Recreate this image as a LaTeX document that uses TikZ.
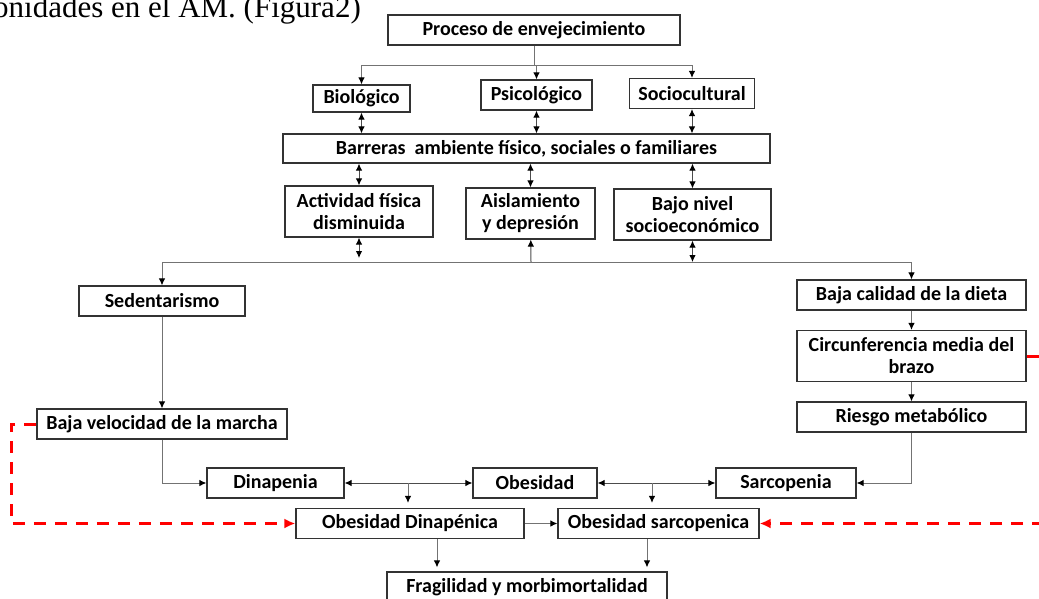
\documentclass[tikz,border=0pt]{standalone}
\usepackage{fontspec}
\setmainfont{Carlito}
\newfontfamily\docserif{Liberation Serif}
\usetikzlibrary{shapes, arrows.meta}
\tikzstyle{block} = [rectangle, draw=black!80, line width=1.2pt, minimum height=30pt, inner sep=0pt, align=center, font=\bfseries\fontsize{20}{22}\selectfont]
\tikzstyle{arrow} = [draw=black!55, line width=1pt, -{Latex[length=7pt, width=6.5pt, color=black]}]
\tikzstyle{dblarrow} = [draw=black!70, line width=1pt, {Latex[length=7pt, width=6.5pt, color=black]}-{Latex[length=7pt, width=6.5pt, color=black]}]
\tikzstyle{redline} = [draw=red, line width=3pt, dash pattern=on 12pt off 9pt, -{Latex[length=11pt, width=10pt]}]

\begin{document}
\begin{tikzpicture}[x=1pt, y=-1pt, node distance=61pt]
        \useasboundingbox (0,0) rectangle (1039,598);
        % page text above the figure
        \node [anchor=base west, inner sep=0pt, font=\docserif\fontsize{31}{34}\selectfont] (caption) at (-7,17) {onidades en el AM. (Figura2)};

        % blocks
        \node [block, minimum width=292pt] (proceso) at (534,30) {Proceso de envejecimiento};
        \node [block, minimum width=97pt, minimum height=27pt] (bio) at (361.5,98.5) {Biológico};
        \node [block, minimum width=111pt] (psico) at (536.5,95) {Psicológico};
        \node [block, minimum width=125pt] (socio) at (692,93.5) {Sociocultural};
        \node [block, minimum width=487pt, minimum height=29pt] (barreras) at (526.5,148.5) {Barreras~ ambiente físico, sociales o familiares};
        \node [block, minimum width=148pt, minimum height=51pt] (actividad) at (359,211.5) {Actividad física\\disminuida};
        \node [block, minimum width=129pt, minimum height=51pt] (aislamiento) at (530.5,213.5) {Aislamiento\\y depresión};
        \node [block, minimum width=157pt, minimum height=51pt] (socioeco) at (692.5,214.5) {Bajo nivel\\socioeconómico};
        \node [block, minimum width=166pt] (sedentario) at (162,301) {Sedentarismo};
        \node [block, below of=sedentario, node distance=123pt, minimum width=250pt] (marcha) {Baja velocidad de la marcha};
        \node [block, minimum width=229pt] (dieta) at (911.5,295) {Baja calidad de la dieta};
        \node [block, below of=dieta, minimum width=229pt, minimum height=51pt] (brazo) {Circunferencia media del\\brazo};
        \node [block, below of=brazo, minimum width=229pt] (riesgo) {Riesgo metabólico};
        \node [block, minimum width=137pt] (dinapenia) at (275.5,483) {Dinapenia};
        \node [block, minimum width=124pt] (obesidad) at (535,483) {Obesidad};
        \node [block, minimum width=140pt] (sarcopenia) at (786,483) {Sarcopenia};
        \node [block, minimum width=228pt] (obdin) at (410,523.5) {Obesidad Dinapénica};
        \node [block, minimum width=201pt] (obsar) at (658.5,523.5) {Obesidad sarcopenica};
        \node [block, minimum width=280pt] (fragil) at (527,587) {Fragilidad y morbimortalidad};

        % branch points
        \coordinate (split) at (534,65);
        \coordinate (lowsplit) at (531,262);
        \coordinate (dinob) at (408,483);
        \coordinate (obsar-mid) at (652,483);

        % arrows
        \draw [arrow] (proceso) -- (split) -| (bio);
        \draw [arrow] (split) -| (psico);
        \draw [arrow] (split) -| (socio);
        \draw [dblarrow] (bio) -- (bio |- barreras.north);
        \draw [dblarrow] (psico) -- (psico |- barreras.north);
        \draw [dblarrow] (socio) -- (socio |- barreras.north);
        \draw [dblarrow] (actividad) -- (actividad |- barreras.south);
        \draw [dblarrow] (aislamiento) -- (aislamiento |- barreras.south);
        \draw [dblarrow] (socioeco) -- (socioeco |- barreras.south);
        \draw [dblarrow, shorten >=4pt] (actividad) -- (actividad |- lowsplit);
        \draw [dblarrow] (socioeco) -- (socioeco |- lowsplit);
        \draw [arrow, draw=black!70] (lowsplit) -- (aislamiento);
        \draw [arrow] (lowsplit) -| (sedentario);
        \draw [arrow] (lowsplit) -| (dieta);
        \draw [arrow] (sedentario) -- (marcha);
        \draw [arrow] (dieta) -- (brazo);
        \draw [arrow] (brazo) -- (riesgo);
        \draw [arrow] (marcha) |- (dinapenia);
        \draw [arrow] (riesgo) |- (sarcopenia);
        \draw [dblarrow] (dinapenia) -- (obesidad);
        \draw [dblarrow] (obesidad) -- (sarcopenia);
        \draw [arrow, shorten >=5pt] (dinob) -- (dinob |- obdin.north);
        \draw [arrow, shorten >=5pt] (obsar-mid) -- (obsar-mid |- obsar.north);
        \draw [arrow] (obdin) -- (obsar);
        \draw [arrow, shorten >=4pt] ([xshift=27pt]obdin.south) -- ([xshift=27pt]obdin.south |- fragil.north);
        \draw [arrow, shorten >=4pt] ([xshift=-11.5pt]obsar.south) -- ([xshift=-11.5pt]obsar.south |- fragil.north);

        % red dashed links
        \draw [redline] (marcha.west) -- ++(-25,0) |- (obdin.west);
        \draw [redline] (brazo.east) -- ++(30,0) |- (obsar.east);
    \end{tikzpicture}
\end{document}
